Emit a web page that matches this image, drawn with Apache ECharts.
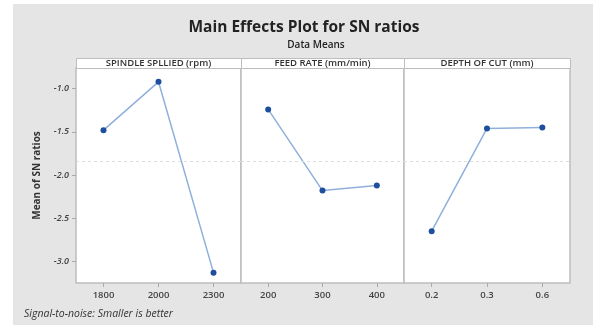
<!DOCTYPE html>
<html>
<head>
<meta charset="utf-8">
<script src="https://cdn.jsdelivr.net/npm/echarts@6/dist/echarts.min.js"></script>
<style>html,body{margin:0;padding:0;background:#fff}#c{width:593px;height:325px}</style>
</head>
<body>
<div id="c"></div>
<script>
var panelTitles = ['SPINDLE SPLLIED (rpm)', 'FEED RATE (mm/min)', 'DEPTH OF CUT (mm)'];
var spindleLevels = ['1800', '2000', '2300'];
var feedLevels = ['200', '300', '400'];
var depthLevels = ['0.2', '0.3', '0.6'];
var spindleSN = [-1.48, -0.92, -3.13];
var feedSN = [-1.24, -2.18, -2.12];
var depthSN = [-2.65, -1.46, -1.45];
var overallMean = -1.845;
var yTicks = [-3.0, -2.5, -2.0, -1.5, -1.0];

var levels = [spindleLevels, feedLevels, depthLevels];
var values = [spindleSN, feedSN, depthSN];

var chart = echarts.init(document.getElementById('c'));
var gridLefts = [76, 241, 404];
var gridWidths = [165, 163, 166];
var font = 'Open Sans';

var grids = [], xAxes = [], yAxes = [], series = [], graphics = [];
graphics.push({type: 'rect', left: 13, top: 4, shape: {width: 580, height: 321}, style: {fill: '#e5e5e5'}, z: -10, silent: true});
for (var i = 0; i < 3; i++) {
  grids.push({left: gridLefts[i], top: 68, width: gridWidths[i], height: 215, show: true, backgroundColor: '#fff', borderColor: '#bdbdbd', borderWidth: 1.5});
  xAxes.push({
    type: 'category', gridIndex: i, data: levels[i], boundaryGap: true,
    axisLine: {show: false},
    axisTick: {show: true, alignWithLabel: true, length: 4, lineStyle: {color: '#aaa'}},
    axisLabel: {margin: 7, fontSize: 9.5, fontWeight: 600, color: '#444', fontFamily: font},
    splitLine: {show: false}
  });
  yAxes.push({
    type: 'value', gridIndex: i, min: -3.25, max: -0.76,
    name: i === 0 ? 'Mean of SN ratios' : '', nameLocation: 'middle', nameGap: 34, nameRotate: 90,
    nameTextStyle: {fontSize: 10, fontWeight: 'bold', color: '#333', fontFamily: font},
    axisLine: {show: false},
    axisTick: {show: i === 0, length: 4, customValues: yTicks, lineStyle: {color: '#aaa'}},
    axisLabel: {show: i === 0, fontSize: 9, fontWeight: 600, color: '#444', margin: 7, fontFamily: font, fontStyle: 'italic', customValues: yTicks, formatter: function (v) { return v.toFixed(1); }},
    splitLine: {show: false}
  });
  series.push({
    type: 'line', xAxisIndex: i, yAxisIndex: i, data: values[i],
    symbol: 'circle', symbolSize: 6,
    lineStyle: {color: '#8fb0dc', width: 1.5},
    itemStyle: {color: '#1d4f9e'},
    markLine: {silent: true, symbol: 'none', label: {show: false},
      lineStyle: {color: '#dcdcdc', type: [3, 3], width: 1},
      data: [{yAxis: overallMean}]},
    animation: false
  });
  graphics.push({type: 'rect', left: gridLefts[i], top: 58, shape: {width: gridWidths[i], height: 10}, style: {fill: '#fff', stroke: '#bdbdbd', lineWidth: 1}, silent: true});
  graphics.push({type: 'text', x: gridLefts[i] + gridWidths[i] / 2, y: 63, style: {text: panelTitles[i], fontSize: 9.5, fontWeight: 600, fill: '#333', fontFamily: font, align: 'center', verticalAlign: 'middle'}, silent: true, z: 10});
}
graphics.push({type: 'text', x: 304, y: 28, style: {text: 'Main Effects Plot for SN ratios', fontSize: 15.5, fontWeight: 'bold', fill: '#222', fontFamily: font, align: 'center', verticalAlign: 'middle'}, silent: true});
graphics.push({type: 'text', x: 316, y: 45, style: {text: 'Data Means', fontSize: 10, fontWeight: 600, fill: '#222', fontFamily: font, align: 'center', verticalAlign: 'middle'}, silent: true});
graphics.push({type: 'text', x: 24, y: 314, style: {text: 'Signal-to-noise: Smaller is better', fontSize: 10.5, fontStyle: 'italic', fill: '#333', fontFamily: font, align: 'left', verticalAlign: 'middle'}, silent: true});

chart.setOption({
  animation: false,
  backgroundColor: '#fff',
  grid: grids, xAxis: xAxes, yAxis: yAxes, series: series, graphic: graphics
});
</script>
</body>
</html>
